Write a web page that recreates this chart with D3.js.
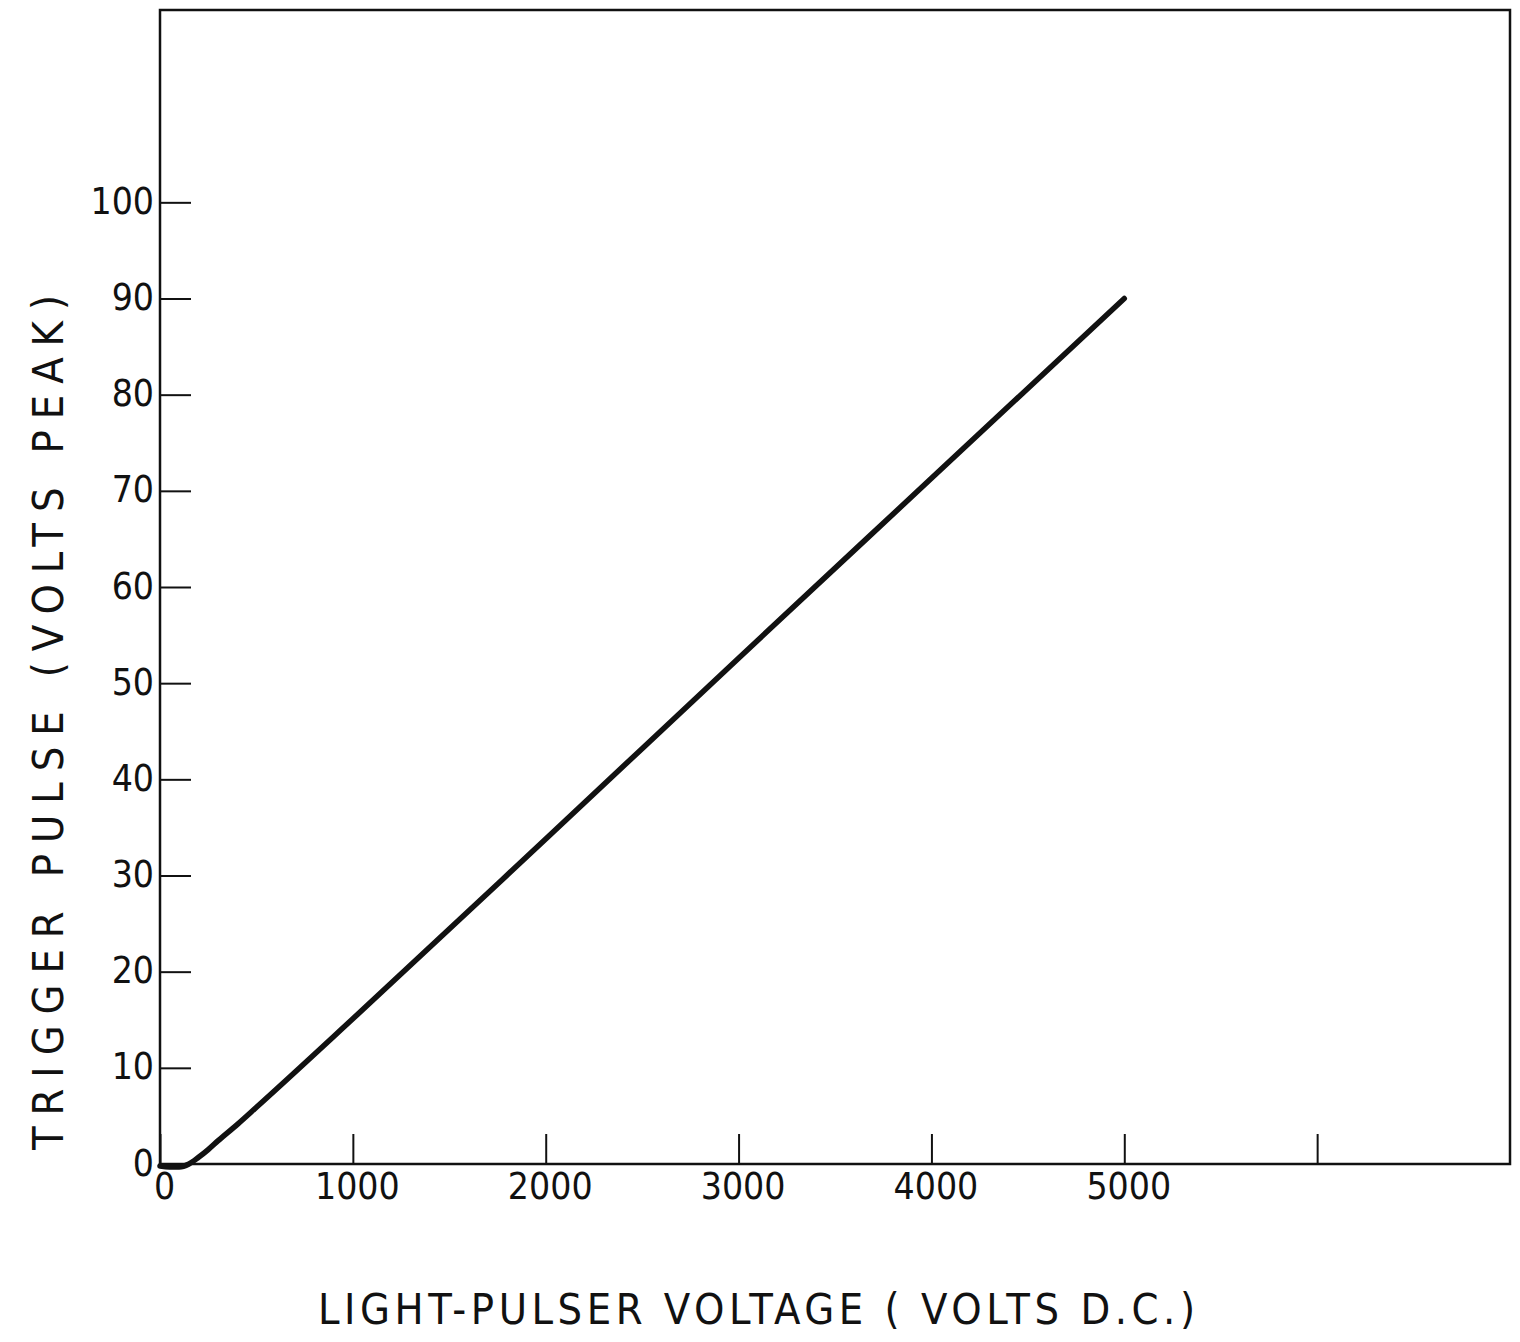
<!DOCTYPE html>
<html>
<head>
<meta charset="utf-8">
<script src="https://cdn.jsdelivr.net/npm/d3@7"></script>
<style>
  body { margin: 0; background: #fff; }
  svg { display: block; }
  text { fill: #111; font-family: "DejaVu Sans Condensed", "Liberation Sans Narrow", sans-serif; }
</style>
</head>
<body>
<svg id="chart" width="1520" height="1342"></svg>
<script>
// light-pulser voltage (V d.c.) vs trigger pulse (V peak)
var voltage = [0, 50, 100, 150, 200, 250, 300, 400, 500, 1000, 2000, 3000, 4000, 5000];
var trigger = [-0.2, -0.3, -0.3, 0, 0.7, 1.5, 2.4, 4.1, 5.9, 15.1, 33.8, 52.6, 71.3, 90];

var xTicks = [0, 1000, 2000, 3000, 4000, 5000, 6000];
var xTickLabels = ["0", "1000", "2000", "3000", "4000", "5000", ""];
var yTicks = [0, 10, 20, 30, 40, 50, 60, 70, 80, 90, 100];

var xTitle = "LIGHT-PULSER VOLTAGE ( VOLTS D.C.)";
var yTitle = "TRIGGER PULSE (VOLTS PEAK)";

var svg = d3.select("#chart");
var margin = { left: 160, right: 10, top: 10, bottom: 178 };
var width = 1520 - margin.left - margin.right,
    height = 1342 - margin.top - margin.bottom;

var x = d3.scaleLinear().domain([0, 7000]).range([0, width]);
var y = d3.scaleLinear().domain([0, 120]).range([height, 0]);

var g = svg.append("g").attr("transform", "translate(" + margin.left + "," + margin.top + ")");

// frame
g.append("rect")
    .attr("x", 0).attr("y", 0)
    .attr("width", width).attr("height", height)
    .attr("fill", "none")
    .attr("stroke", "#111")
    .attr("stroke-width", 2.5);

// x ticks (inward) + labels
var xAxis = d3.axisBottom(x)
    .tickValues(xTicks)
    .tickSizeInner(-30)
    .tickSizeOuter(0)
    .tickPadding(40)
    .tickFormat(function(d, i) { return xTickLabels[i]; });

var gx = g.append("g").attr("transform", "translate(0," + height + ")").call(xAxis);
gx.select(".domain").remove();
gx.selectAll(".tick line").attr("stroke", "#111").attr("stroke-width", 2);
gx.selectAll(".tick text")
    .attr("dx", 4)
    .attr("y", 9)
    .attr("dy", "0.71em")
    .style("font-size", "37px");

// y ticks (inward) + labels
var yAxis = d3.axisLeft(y)
    .tickValues(yTicks)
    .tickSizeInner(-31)
    .tickSizeOuter(0)
    .tickPadding(8);

var gy = g.append("g").call(yAxis);
gy.select(".domain").remove();
gy.selectAll(".tick line").attr("stroke", "#111").attr("stroke-width", 2);
gy.selectAll(".tick text")
    .attr("x", -6)
    .attr("dy", "0.3em")
    .style("font-size", "37px");

// curve
var line = d3.line()
    .x(function(d, i) { return x(voltage[i]); })
    .y(function(d) { return y(d); })
    .curve(d3.curveMonotoneX);

g.append("path")
    .attr("d", line(trigger))
    .attr("fill", "none")
    .attr("stroke", "#111")
    .attr("stroke-width", 5.5)
    .attr("stroke-linecap", "round");

// axis titles
svg.append("text")
    .attr("x", 318)
    .attr("y", 1324)
    .attr("textLength", 877)
    .attr("lengthAdjust", "spacing")
    .style("font-size", "43px")
    .text(xTitle);

svg.append("text")
    .attr("transform", "translate(63,1150) rotate(-90)")
    .attr("textLength", 855)
    .attr("lengthAdjust", "spacing")
    .style("font-size", "43px")
    .text(yTitle);
</script>
</body>
</html>
